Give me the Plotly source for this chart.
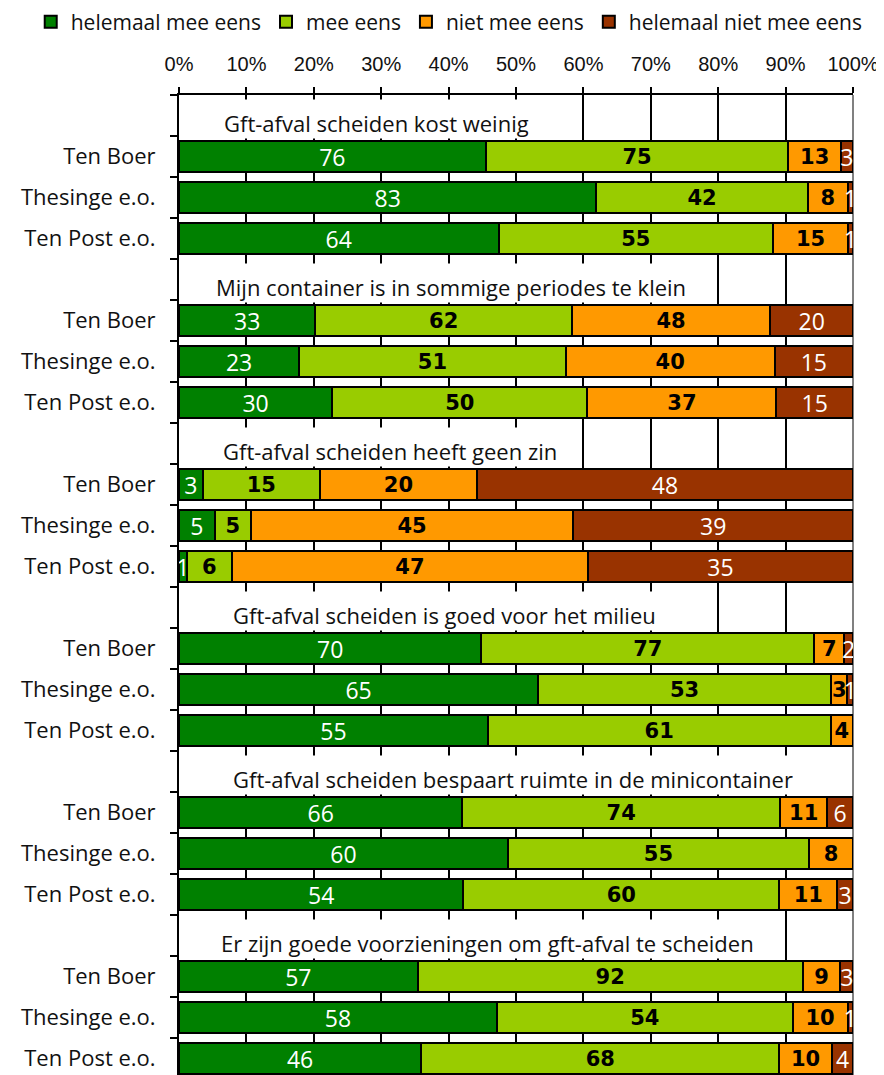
import numpy as np
import plotly.graph_objects as go

# ---- data ----
series = ["helemaal mee eens", "mee eens", "niet mee eens", "helemaal niet mee eens"]
locations = ["Ten Boer", "Thesinge e.o.", "Ten Post e.o."]
statements = [
    "Gft-afval scheiden kost weinig",
    "Mijn container is in sommige periodes te klein",
    "Gft-afval scheiden heeft geen zin",
    "Gft-afval scheiden is goed voor het milieu",
    "Gft-afval scheiden bespaart ruimte in de minicontainer",
    "Er zijn goede voorzieningen om gft-afval te scheiden",
]
# counts per statement, per location: [helemaal mee eens, mee eens, niet mee eens, helemaal niet mee eens]
helemaal_mee_eens = [76, 83, 64, 33, 23, 30, 3, 5, 1, 70, 65, 55, 66, 60, 54, 57, 58, 46]
mee_eens = [75, 42, 55, 62, 51, 50, 15, 5, 6, 77, 53, 61, 74, 55, 60, 92, 54, 68]
niet_mee_eens = [13, 8, 15, 48, 40, 37, 20, 45, 47, 7, 3, 4, 11, 8, 11, 9, 10, 10]
helemaal_niet_mee_eens = [3, 1, 1, 20, 15, 15, 48, 39, 35, 2, 1, 0, 6, 0, 3, 3, 1, 4]
tick_pct = [0, 10, 20, 30, 40, 50, 60, 70, 80, 90, 100]

# ---- styling ----
colors = ["#008000", "#99CC00", "#FF9900", "#993300"]
label_fonts = [
    dict(family="Open Sans", size=23, color="white"),
    dict(family="DejaVu Sans", size=21, color="black", weight="bold"),
    dict(family="DejaVu Sans", size=21, color="black", weight="bold"),
    dict(family="Open Sans", size=23, color="white"),
]
title_x_pct = [6.5, 5.3, 6.4, 7.9, 7.9, 6.1]
bargap = 0.25

counts = np.array([helemaal_mee_eens, mee_eens, niet_mee_eens, helemaal_niet_mee_eens], dtype=float)
totals = counts.sum(axis=0)
pct = counts / totals * 100

n_groups = len(statements)
rows_per_group = len(locations) + 1
bar_rows = []
bar_names = []
for g in range(n_groups):
    for j, loc in enumerate(locations):
        bar_rows.append(g * rows_per_group + 1 + j)
        bar_names.append(loc)
n_rows = n_groups * rows_per_group

fig = go.Figure()
for k, name in enumerate(series):
    fig.add_trace(go.Bar(
        y=bar_rows, x=pct[k], orientation="h", name=name,
        marker=dict(color=colors[k], line=dict(color="black", width=2)),
        text=[str(int(v)) for v in counts[k]],
        textposition="inside", insidetextanchor="middle", textangle=0,
        constraintext="none", textfont=label_fonts[k],
        hoverinfo="skip",
    ))

annotations = []
for g, title in enumerate(statements):
    title_row = g * rows_per_group
    annotations.append(dict(
        x=title_x_pct[g], y=title_row + 1 - (1 - bargap) / 2,
        xref="x", yref="y", xanchor="left", yanchor="bottom",
        text=title, showarrow=False, height=38, valign="bottom",
        bgcolor="white", borderpad=0, yshift=2,
        font=dict(family="Open Sans", size=22, color="#111111"),
    ))

fig.add_shape(type="line", xref="paper", yref="paper", x0=1, x1=1, y0=0, y1=1,
              line=dict(color="#808080", width=2), layer="between")

fig.update_layout(
    width=876, height=1067, autosize=False,
    margin=dict(l=171, r=31, t=87, b=0, pad=0, autoexpand=False),
    barmode="stack", bargap=bargap,
    plot_bgcolor="white", paper_bgcolor="white",
    showlegend=True,
    legend=dict(orientation="h", xref="paper", yref="paper",
                x=-0.22, y=1.0745, xanchor="left", yanchor="middle",
                traceorder="normal",
                font=dict(family="Open Sans", size=21, color="#111111"),
                itemwidth=30, tracegroupgap=0),
    annotations=annotations,
    xaxis=dict(side="top", range=[0, 100], tickvals=tick_pct,
               ticktext=[f"{t}%" for t in tick_pct],
               showgrid=True, gridcolor="black", gridwidth=2,
               showline=True, linecolor="black", linewidth=2,
               ticks="outside", ticklen=6, tickwidth=2, tickcolor="black",
               zeroline=False, ticklabelstandoff=8, automargin=False,
               tickfont=dict(family="Liberation Sans", size=20, color="#111111")),
    yaxis=dict(range=[23.4, -0.5], tickvals=bar_rows, ticktext=bar_names,
               showgrid=False, zeroline=False, automargin=False,
               showline=True, linecolor="black", linewidth=2,
               ticks="", ticklabelstandoff=17,
               minor=dict(tickvals=[i - 0.5 for i in range(n_rows + 1)],
                          ticks="outside", ticklen=7, tickwidth=2, tickcolor="black",
                          showgrid=False),
               tickfont=dict(family="Open Sans", size=22, color="#111111")),
)

fig.write_html("out.html")
